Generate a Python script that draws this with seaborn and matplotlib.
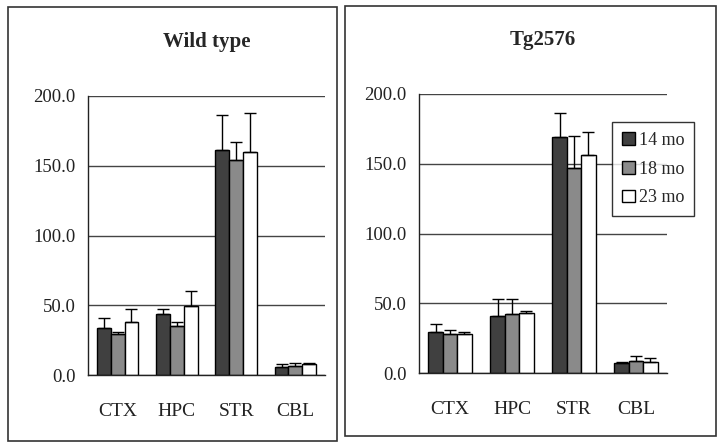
import pandas as pd
import seaborn as sns
import matplotlib.pyplot as plt
from matplotlib.patches import Rectangle

regions = ["CTX", "HPC", "STR", "CBL"]
ages = ["14 mo", "18 mo", "23 mo"]

# Wild type means and upward error (SEM)
wt_14 = [33.9, 43.5, 161.1, 6.0]
wt_18 = [29.2, 34.9, 154.1, 6.7]
wt_23 = [38.2, 49.7, 160.1, 7.9]
wt_14_err = [6.7, 3.8, 25.3, 1.7]
wt_18_err = [1.4, 3.3, 12.7, 1.7]
wt_23_err = [9.1, 10.5, 27.9, 0.7]

# Tg2576 means and upward error
tg_14 = [29.6, 40.9, 169.0, 7.4]
tg_18 = [28.0, 42.3, 146.7, 8.6]
tg_23 = [28.0, 43.2, 156.3, 8.1]
tg_14_err = [5.5, 12.1, 17.2, 0.5]
tg_18_err = [2.8, 10.7, 23.2, 3.6]
tg_23_err = [1.6, 1.5, 16.7, 2.4]

colors = ["#404040", "#8a8a8a", "#ffffff"]


def make_df(means, errs):
    rows = []
    for age, m, e in zip(ages, means, errs):
        for r, v, ev in zip(regions, m, e):
            rows.append({"region": r, "age": age, "value": v, "err": ev})
    return pd.DataFrame(rows)


def draw_panel(ax, df, title, legend=False):
    sns.barplot(data=df, x="region", y="value", hue="age", order=regions,
                hue_order=ages, palette=colors, width=0.7, errorbar=None,
                edgecolor="black", linewidth=1, saturation=1, ax=ax,
                legend=legend)
    for age, cont in zip(ages, ax.containers):
        sub = df[df["age"] == age].set_index("region").loc[regions]
        for bar, e in zip(cont, sub["err"]):
            x = bar.get_x() + bar.get_width() / 2
            y = bar.get_height()
            ax.errorbar(x, y, yerr=[[0], [e]], fmt="none", ecolor="black",
                        elinewidth=1, capsize=4, capthick=1, zorder=5)
    ax.set_ylim(0, 200)
    ax.set_xlim(-0.5, 3.5)
    ax.set_yticks([0, 50, 100, 150, 200])
    ax.set_yticklabels([f"{v:.1f}" for v in [0, 50, 100, 150, 200]])
    ax.set_xticks([-0.5, 0.5, 1.5, 2.5, 3.5], minor=True)
    ax.tick_params(axis="x", which="major", length=0, pad=20, labelsize=14)
    ax.tick_params(axis="x", which="minor", length=5, width=1, direction="out")
    ax.tick_params(axis="y", length=4, width=1, direction="out", pad=5,
                   labelsize=13.5, labelcolor="#222222")
    ax.tick_params(axis="x", labelcolor="#222222")
    ax.yaxis.grid(True, color="#444444", linewidth=1)
    ax.set_axisbelow(True)
    for s in ["top", "right"]:
        ax.spines[s].set_visible(False)
    for s in ["left", "bottom"]:
        ax.spines[s].set_color("#222222")
        ax.spines[s].set_linewidth(1)
    ax.set_xlabel("")
    ax.set_ylabel("")
    ax.set_title(title, fontsize=15, fontweight="bold", pad=35)


sns.set_style("white")
plt.rcParams["font.family"] = ["Liberation Serif", "DejaVu Serif"]

fig = plt.figure(figsize=(7.2, 4.45), dpi=100)
ax1 = fig.add_axes([88 / 720, 70 / 445, 237 / 720, 279 / 445])
ax2 = fig.add_axes([419 / 720, 72 / 445, 248 / 720, 279 / 445])

wt_df = make_df([wt_14, wt_18, wt_23], [wt_14_err, wt_18_err, wt_23_err])
tg_df = make_df([tg_14, tg_18, tg_23], [tg_14_err, tg_18_err, tg_23_err])

draw_panel(ax1, wt_df, "Wild type")
draw_panel(ax2, tg_df, "Tg2576", legend=True)

leg = ax2.legend(loc="upper left", bbox_to_anchor=(0.778, 0.9), fontsize=13,
                 frameon=True, fancybox=False, edgecolor="black",
                 handlelength=0.7, handleheight=0.7, handletextpad=0.25,
                 borderpad=0.55, labelspacing=0.65, borderaxespad=0)
leg.get_frame().set_linewidth(1)

# panel frames
fig.add_artist(Rectangle((8 / 720, 4 / 445), 329 / 720, 434 / 445,
                         transform=fig.transFigure, fill=False,
                         edgecolor="#333333", linewidth=1.2))
fig.add_artist(Rectangle((345 / 720, 9 / 445), 371 / 720, 430 / 445,
                         transform=fig.transFigure, fill=False,
                         edgecolor="#333333", linewidth=1.2))

fig.savefig("out.png", dpi=100)
